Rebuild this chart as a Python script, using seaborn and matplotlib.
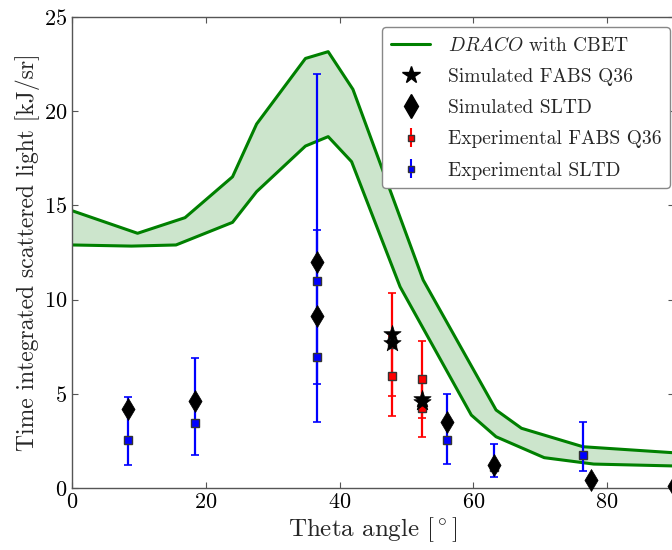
import numpy as np
import pandas as pd
import matplotlib
matplotlib.use("Agg")
import matplotlib.pyplot as plt
from matplotlib.lines import Line2D
import seaborn as sns

# ---- data ----
up_theta = [0, 9.8, 16.9, 24.0, 27.6, 34.9, 38.3, 42.0, 52.5, 63.4, 67.2, 76.4, 90]
up_val = [14.72, 13.52, 14.35, 16.52, 19.32, 22.8, 23.16, 21.16, 11.04, 4.14, 3.17, 2.19, 1.87]
lo_theta = [0, 8.9, 15.55, 24.0, 27.6, 34.9, 38.3, 41.8, 49.05, 59.7, 63.4, 70.6, 78.0, 90]
lo_val = [12.9, 12.84, 12.9, 14.1, 15.73, 18.15, 18.65, 17.32, 10.68, 3.87, 2.72, 1.61, 1.27, 1.17]

sim_fabs_theta = [47.8, 47.8, 52.3, 52.3]
sim_fabs_val = [8.15, 7.72, 4.74, 4.56]

sim_sltd_theta = [8.42, 18.4, 36.6, 36.6, 56.0, 63.15, 77.6, 90]
sim_sltd_val = [4.19, 4.62, 12.01, 9.13, 3.52, 1.22, 0.42, 0.1]

exp_fabs_theta = [47.8, 47.8, 52.3, 52.3]
exp_fabs_val = [7.63, 5.94, 5.77, 4.26]
exp_fabs_lo = [4.88, 3.82, 3.70, 2.72]
exp_fabs_hi = [10.33, 8.07, 7.80, 5.80]

exp_sltd_theta = [8.42, 18.4, 36.6, 36.6, 56.0, 63.15, 76.4]
exp_sltd_val = [2.53, 3.47, 11.0, 6.97, 2.55, 1.13, 1.75]
exp_sltd_lo = [1.22, 1.77, 3.49, 5.52, 1.26, 0.60, 0.90]
exp_sltd_hi = [4.81, 6.90, 21.96, 13.70, 4.97, 2.32, 3.52]

x_ticks = [0, 20, 40, 60, 80]
y_ticks = [0, 5, 10, 15, 20, 25]

# ---- style ----
sns.set_theme(style="ticks")
plt.rcParams.update({
    "font.family": ["serif"],
    "font.serif": ["cmr10", "DejaVu Serif"],
    "mathtext.fontset": "cm",
    "axes.formatter.use_mathtext": True,
    "axes.unicode_minus": False,
})

fig = plt.figure(figsize=(6.72, 5.5), dpi=100)
ax = fig.add_axes([72 / 672, 62 / 550, 602 / 672, 471 / 550])

green = "#008000"
up_df = pd.DataFrame({"theta": up_theta, "val": up_val})
lo_df = pd.DataFrame({"theta": lo_theta, "val": lo_val})

poly_x = list(up_theta) + list(lo_theta[::-1])
poly_y = list(up_val) + list(lo_val[::-1])
ax.fill(poly_x, poly_y, color=green, alpha=0.2, lw=0, zorder=1)
sns.lineplot(data=up_df, x="theta", y="val", sort=False, color=green, lw=2.2, ax=ax, zorder=2)
sns.lineplot(data=lo_df, x="theta", y="val", sort=False, color=green, lw=2.2, ax=ax, zorder=2)

def yerr(v, lo, hi):
    v = np.array(v); return [v - np.array(lo), np.array(hi) - v]

ax.errorbar(exp_fabs_theta, exp_fabs_val, yerr=yerr(exp_fabs_val, exp_fabs_lo, exp_fabs_hi),
            fmt="s", color="red", mfc="red", mec="#333333", ms=5.5, elinewidth=1.6,
            capsize=3, capthick=1.2, zorder=3)
ax.errorbar(exp_sltd_theta, exp_sltd_val, yerr=yerr(exp_sltd_val, exp_sltd_lo, exp_sltd_hi),
            fmt="s", color="blue", mfc="blue", mec="#333333", ms=5.5, elinewidth=1.6,
            capsize=3, capthick=1.2, zorder=3)

sns.scatterplot(x=sim_sltd_theta, y=sim_sltd_val, marker="d", s=125, color="black",
                edgecolor="black", linewidth=0.5, ax=ax, zorder=4, clip_on=False)
sns.scatterplot(x=sim_fabs_theta, y=sim_fabs_val, marker="*", s=170, color="black",
                edgecolor="black", linewidth=0.5, ax=ax, zorder=4)

ax.set_xlim(0, 90)
ax.set_ylim(0, 25)
ax.set_xticks(x_ticks)
ax.set_yticks(y_ticks)
ax.tick_params(direction="in", top=True, right=True, length=4, width=0.8,
               labelsize=16, colors="#555555", labelcolor="black")
for s in ax.spines.values():
    s.set_color("#555555")
    s.set_linewidth(1.0)
ax.set_xlabel(r"Theta angle $[^\circ]$", fontsize=18, labelpad=2)
ax.set_ylabel("Time integrated scattered light [kJ/sr]", fontsize=17, labelpad=3)

handles = [
    Line2D([], [], color=green, lw=2.2),
    Line2D([], [], marker="*", color="black", ls="none", ms=13),
    Line2D([], [], marker="d", color="black", ls="none", ms=12),
    ax.errorbar([], [], yerr=[], fmt="s", color="red", mec="#333333", ms=5, capsize=3),
    ax.errorbar([], [], yerr=[], fmt="s", color="blue", mec="#333333", ms=5, capsize=3),
]
labels = [r"$\mathit{DRACO}$ with CBET", "Simulated FABS Q36", "Simulated SLTD",
          "Experimental FABS Q36", "Experimental SLTD"]
leg = ax.legend(handles, labels, loc="upper right", fontsize=14, frameon=True,
                fancybox=True, framealpha=1, edgecolor="#888888",
                bbox_to_anchor=(670 / 672, (550 - 27) / 550),
                bbox_transform=fig.transFigure, borderaxespad=0,
                handlelength=2.0, handletextpad=0.9, labelspacing=0.68, borderpad=0.45)

fig.savefig("out.png", dpi=100)
